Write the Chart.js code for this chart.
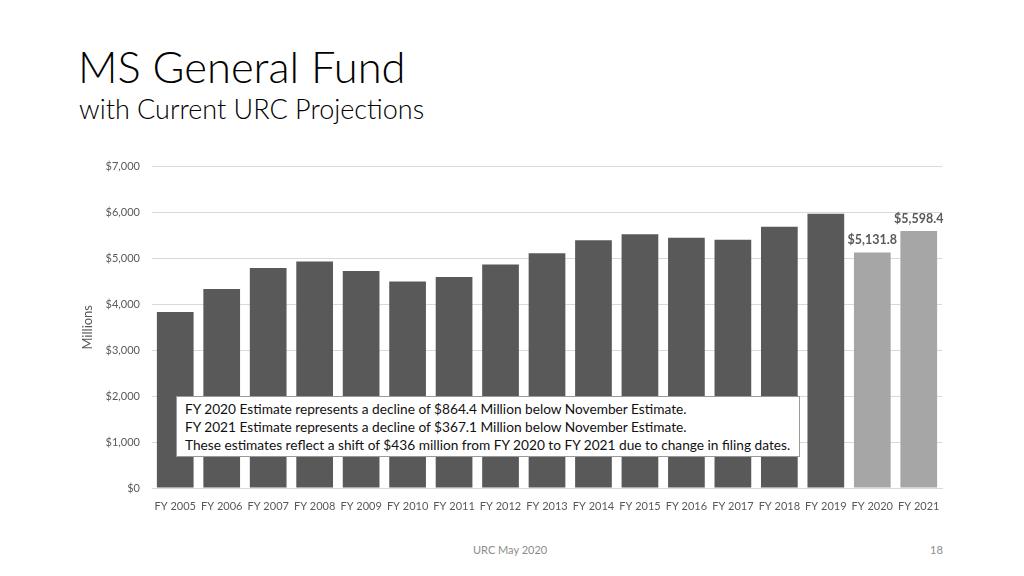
<!DOCTYPE html>
<html>
<head>
<meta charset="utf-8">
<script src="https://cdn.jsdelivr.net/npm/chart.js@4/dist/chart.umd.min.js"></script>
<style>
  body { margin: 0; width: 1024px; height: 576px; background: #fff; position: relative; overflow: hidden; font-family: Lato, "Open Sans", sans-serif; }
  #title { position: absolute; left: 78px; top: 45px; font-size: 43.5px; font-weight: 300; color: #000; line-height: 1; }
  #subtitle { position: absolute; left: 79px; top: 95px; font-size: 27px; font-weight: 300; color: #000; line-height: 1; }
  #wrap { position: absolute; left: 80px; top: 148px; width: 880px; height: 372px; }
  #note { position: absolute; left: 176px; top: 396px; width: 614px; height: 53px; padding: 3px 0 3px 8px; border: 1px solid #9a9a9a; background: #fff; font-size: 13.7px; line-height: 18px; color: #111; white-space: nowrap; }
  #footer { position: absolute; left: 473px; top: 543px; font-size: 11px; color: #8c8c8c; }
  #page { position: absolute; left: 930px; top: 543px; font-size: 11px; color: #8c8c8c; }
</style>
</head>
<body>
<div id="title">MS General Fund</div>
<div id="subtitle">with Current URC Projections</div>
<div id="wrap"><canvas id="chart"></canvas></div>
<div id="note">FY 2020 Estimate represents a decline of $864.4 Million below November Estimate.<br>FY 2021 Estimate represents a decline of $367.1 Million below November Estimate.<br>These estimates reflect a shift of $436 million from FY 2020 to FY 2021 due to change in filing dates.</div>
<div id="footer">URC May 2020</div>
<div id="page">18</div>
<script>
// fiscal years and general fund revenue (millions)
const years = ["FY 2005", "FY 2006", "FY 2007", "FY 2008", "FY 2009", "FY 2010", "FY 2011", "FY 2012", "FY 2013",
    "FY 2014", "FY 2015", "FY 2016", "FY 2017", "FY 2018", "FY 2019", "FY 2020", "FY 2021"];
const revenue = [3833, 4333, 4790, 4935, 4727, 4495, 4597, 4870, 5112,
    5398, 5529, 5451, 5408, 5688, 5972, 5131.8, 5598.4];
const projected = [false, false, false, false, false, false, false, false, false,
    false, false, false, false, false, false, true, true];
const yTicks = [0, 1000, 2000, 3000, 4000, 5000, 6000, 7000];

function money(v, dec) {
    return "$" + v.toLocaleString("en-US", { minimumFractionDigits: dec, maximumFractionDigits: dec });
}

// value labels above the projected bars
const barLabels = {
    id: "barLabels",
    afterDatasetsDraw(chart) {
        const ctx = chart.ctx;
        const meta = chart.getDatasetMeta(0);
        ctx.save();
        ctx.font = "bold 12.5px Lato, 'Open Sans', sans-serif";
        ctx.fillStyle = "#595959";
        ctx.textAlign = "center";
        ctx.textBaseline = "bottom";
        meta.data.forEach((bar, i) => {
            if (!projected[i]) return;
            ctx.fillText(money(revenue[i], 1), bar.x, bar.y - 6);
        });
        ctx.restore();
    }
};

new Chart(document.getElementById("chart"), {
    type: "bar",
    data: {
        labels: years,
        datasets: [{
            data: revenue,
            backgroundColor: projected.map(p => p ? "#a6a6a6" : "#595959"),
            categoryPercentage: 1,
            barPercentage: 0.79
        }]
    },
    options: {
        responsive: true,
        maintainAspectRatio: false,
        animation: false,
        layout: { padding: { top: 14, right: 18, bottom: 0, left: 0 } },
        plugins: { legend: { display: false }, tooltip: { enabled: false } },
        scales: {
            x: {
                grid: { display: false, drawTicks: false },
                border: { color: "#d9d9d9" },
                ticks: { color: "#595959", font: { size: 11, family: "Lato" }, padding: 12, maxRotation: 0, autoSkip: false },
                afterFit(scale) { scale.height = 32; }
            },
            y: {
                min: 0,
                max: 7000,
                afterBuildTicks(scale) { scale.ticks = yTicks.map(v => ({ value: v })); },
                grid: { color: "#d9d9d9", drawTicks: false },
                border: { display: false },
                ticks: { color: "#595959", font: { size: 11, family: "Lato" }, padding: 12, callback: v => money(v, 0) },
                title: { display: true, text: "Millions", color: "#595959", font: { size: 13, family: "Lato" }, padding: { top: 0, bottom: 0 } },
                afterFit(scale) { scale.width = 72; }
            }
        }
    },
    plugins: [barLabels]
});
</script>
</body>
</html>
